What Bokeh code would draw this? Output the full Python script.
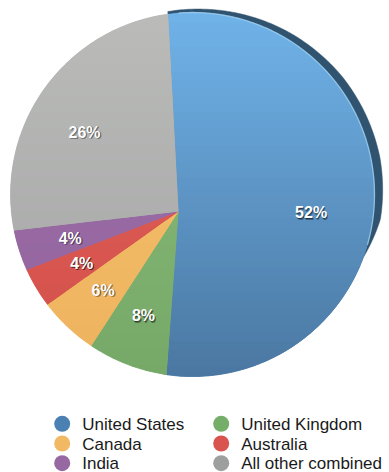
import numpy as np
from bokeh.plotting import figure
from bokeh.models import Range1d, ColumnDataSource
from bokeh.core.properties import value
from bokeh.embed import file_html
from bokeh.resources import INLINE

# ---------------- data ----------------
countries = ["United States", "United Kingdom", "Canada", "Australia", "India", "All other combined"]
shares = [52, 8, 6, 4, 4, 26]
labels = ["52%", "8%", "6%", "4%", "4%", "26%"]

# ---------------- style ----------------
legend_colors = ["#4b80b2", "#74ae68", "#f2b965", "#d9534f", "#9868a3", "#9d9f9e"]
top_colors = ["#70b3e9", "#8cbd7c", "#f6c46f", "#e3645c", "#a072ab", "#bbbcba"]
bottom_colors = ["#4a77a1", "#76a867", "#eeb25e", "#d24f49", "#91629c", "#a2a4a3"]
base_colors = ["#5a8fc2", "#80b272", "#f2bb68", "#da5a52", "#98699f", "#acaeac"]
SHADOW = "#30536f"
FONT = "Liberation Sans"

W, H = 389, 472
APEX = np.array([178.0, 211.0])     # pie apex (screen px)
RIM_C = np.array([192.0, 194.0])    # rim circle centre
RIM_R = 182.0
START = -3.0                         # degrees clockwise from 12 o'clock
Y_TOP, Y_BOT = 10.0, 378.0


def direction(theta_deg):
    t = np.radians(theta_deg)
    return np.stack([np.sin(t), -np.cos(t)], axis=-1)


def rim_dist(theta_deg):
    d = direction(theta_deg)
    ac = APEX - RIM_C
    b = d @ ac
    return -b + np.sqrt(b * b - ac @ ac + RIM_R ** 2)


def rim_points(theta):
    d = direction(theta)
    s = rim_dist(theta)
    return APEX + d * s[:, None]


def clip_h(poly, y0, keep_greater):
    out = []
    n = len(poly)
    for i in range(n):
        cur = poly[i]
        prv = poly[i - 1]
        cin = (cur[1] >= y0) if keep_greater else (cur[1] <= y0)
        pin = (prv[1] >= y0) if keep_greater else (prv[1] <= y0)
        if cin:
            if not pin:
                t = (y0 - prv[1]) / (cur[1] - prv[1])
                out.append((prv[0] + t * (cur[0] - prv[0]), y0))
            out.append(tuple(cur))
        elif pin:
            t = (y0 - prv[1]) / (cur[1] - prv[1])
            out.append((prv[0] + t * (cur[0] - prv[0]), y0))
    return out


def mix(c1, c2, f):
    a = np.array([int(c1[i:i + 2], 16) for i in (1, 3, 5)], float)
    b = np.array([int(c2[i:i + 2], 16) for i in (1, 3, 5)], float)
    c = np.clip(np.round(a + (b - a) * f), 0, 255).astype(int)
    return "#%02x%02x%02x" % tuple(c)


fr = np.array(shares, float) / np.sum(shares)
bounds = START + 360.0 * np.concatenate([[0.0], np.cumsum(fr)])

slice_xs, slice_ys, polys = [], [], []
for i in range(len(shares)):
    a, b = bounds[i], bounds[i + 1]
    th = np.linspace(a, b, max(8, int((b - a) / 1.0)))
    pts = rim_points(th)
    poly = [tuple(APEX)] + [tuple(pt) for pt in pts]
    polys.append(poly)
    slice_xs.append([pt[0] for pt in poly])
    slice_ys.append([pt[1] for pt in poly])

p = figure(width=W, height=H, x_range=Range1d(0, W), y_range=Range1d(H, 0),
           output_backend="svg", toolbar_location=None, min_border=0,
           x_axis_type=None, y_axis_type=None)
p.outline_line_color = None
p.background_fill_color = "white"
p.border_fill_color = "white"

# extrusion shadow behind the US slice
a, b = bounds[0], bounds[1]
th = np.linspace(a, b, 300)
rp = rim_points(th)
nrm = (rp - RIM_C) / RIM_R
knots_t = [-4, 10, 30, 50, 75, 92, 104, 400]
knots_w = [2.5, 4.0, 6.5, 8.5, 9.0, 7.5, 0.0, 0.0]
wd = np.interp(th, knots_t, knots_w)
op = rp + nrm * wd[:, None]
p.patch([APEX[0]] + list(op[:, 0]), [APEX[1]] + list(op[:, 1]),
        fill_color=SHADOW, line_color=SHADOW, line_width=0.5)

# base slices
src = ColumnDataSource(dict(xs=slice_xs, ys=slice_ys, color=base_colors, country=countries))
p.patches("xs", "ys", source=src, fill_color="color", line_color="color", line_width=0.5)

# vertical gradient bands
NB = 46
edges = np.linspace(Y_TOP - 4, Y_BOT + 4, NB + 1)
gx, gy, gc = [], [], []
for i, poly in enumerate(polys):
    for k in range(NB):
        y0, y1 = edges[k] - 0.4, edges[k + 1] + 0.4
        q = clip_h(poly, y0, True)
        if len(q) < 3:
            continue
        q = clip_h(q, y1, False)
        if len(q) < 3:
            continue
        f = ((edges[k] + edges[k + 1]) / 2 - Y_TOP) / (Y_BOT - Y_TOP)
        gx.append([v[0] for v in q])
        gy.append([v[1] for v in q])
        gc.append(mix(top_colors[i], bottom_colors[i], min(max(f, 0), 1)))
p.patches(gx, gy, fill_color=gc, line_color=None)

# light rim highlight on the US slice
th = np.linspace(bounds[0] + 3, 100, 200)
rp = rim_points(th)
p.line(rp[:, 0], rp[:, 1], line_color="#a8d8f6", line_width=1.3, line_alpha=0.7)

# percentage labels
mids = (bounds[:-1] + bounds[1:]) / 2
lp = APEX + direction(mids) * (0.68 * rim_dist(mids))[:, None]
for dx, dy, al in [(1.2, 1.6, 0.35), (0.6, 0.9, 0.45)]:
    p.text(lp[:, 0] + dx, lp[:, 1] + dy, text=labels, text_color="black", text_alpha=al,
           text_font=value(FONT), text_font_size="16px", text_font_style="bold",
           text_align="center", text_baseline="middle")
p.text(lp[:, 0], lp[:, 1], text=labels, text_color="white",
       text_font=value(FONT), text_font_size="16px", text_font_style="bold",
       text_align="center", text_baseline="middle")

# legend (two columns, row-major)
idx = np.arange(len(countries))
col = idx % 2
row = idx // 2
mx = np.where(col == 0, 61.7, 220.7)
my = 423.3 + 19.7 * row
p.scatter(mx, my, size=16, marker="circle", fill_color=legend_colors, line_color=None)
p.text(mx + 20, my + 0.5, text=countries, text_color="#1a1a1a",
       text_font=value(FONT), text_font_size="17px",
       text_align="left", text_baseline="middle")

open("out.html", "w").write(file_html(p, INLINE))
